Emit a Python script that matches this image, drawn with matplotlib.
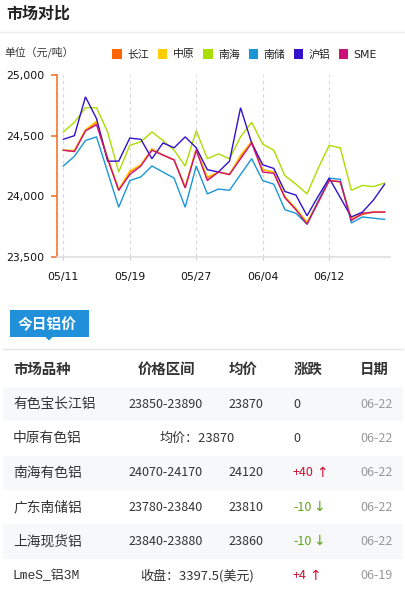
import matplotlib
matplotlib.use('Agg')
import matplotlib.pyplot as plt
from matplotlib.patches import Rectangle, Polygon
from matplotlib.ticker import FuncFormatter, FixedLocator

plt.rcParams['font.family'] = ['Noto Sans CJK SC', 'DejaVu Sans']

# trading days shown on the chart
dates = ['05/11', '05/12', '05/13', '05/14', '05/15', '05/18', '05/19', '05/20',
         '05/21', '05/22', '05/25', '05/26', '05/27', '05/28', '05/29', '06/01',
         '06/02', '06/03', '06/04', '06/05', '06/08', '06/09', '06/10', '06/11',
         '06/12', '06/15', '06/16', '06/17', '06/18', '06/19']

changjiang = [24380, 24370, 24540, 24610, 24310, 24050, 24200, 24260, 24390, 24340,
              24300, 24070, 24390, 24150, 24200, 24180, 24330, 24450, 24220, 24200,
              23990, 23890, 23780, 23950, 24130, 24120, 23810, 23850, 23870, 23870]
zhongyuan = [24380, 24380, 24550, 24620, 24320, 24060, 24210, 24260, 24390, 24340,
             24300, 24080, 24390, 24160, 24200, 24180, 24340, 24450, 24220, 24200,
             24000, 23900, 23790, 23960, 24130, 24120, 23820, 23860, 23870, 23870]
nanhai = [24530, 24610, 24730, 24730, 24530, 24200, 24420, 24450, 24530, 24460,
          24380, 24250, 24540, 24310, 24350, 24310, 24490, 24610, 24430, 24380,
          24170, 24100, 24020, 24230, 24420, 24400, 24050, 24090, 24080, 24110]
nanchu = [24250, 24330, 24460, 24490, 24200, 23910, 24130, 24160, 24250, 24200,
          24150, 23910, 24250, 24020, 24060, 24050, 24180, 24310, 24130, 24100,
          23890, 23860, 23770, 23960, 24150, 24140, 23780, 23830, 23820, 23810]
hulv = [24470, 24500, 24820, 24640, 24290, 24290, 24480, 24470, 24310, 24440,
        24400, 24490, 24400, 24220, 24200, 24290, 24730, 24440, 24260, 24230,
        24040, 24010, 23840, 24000, 24150, 23990, 23830, 23870, 23970, 24100]
sme = [24380, 24370, 24540, 24590, 24310, 24050, 24180, 24250, 24380, 24340,
       24300, 24070, 24380, 24130, 24200, 24180, 24310, 24440, 24200, 24190,
       23990, 23890, 23770, 23950, 24130, 24120, 23800, 23860, 23870, 23870]

series_names = ['长江', '中原', '南海', '南储', '沪铝', 'SME']
series_vals = [changjiang, zhongyuan, nanhai, nanchu, hulv, sme]
series_colors = ['#ff6600', '#ffcc00', '#aadd00', '#1a96d8', '#3311cc', '#cc1177']

y_ticks = [23500, 24000, 24500, 25000]
x_tick_every = 6

# today's table
tbl_header = ['市场品种', '价格区间', '均价', '涨跌', '日期']
markets = ['有色宝长江铝', '中原有色铝', '南海有色铝', '广东南储铝', '上海现货铝', 'LmeS_铝3M']
ranges = ['23850-23890', '均价：23870', '24070-24170', '23780-23840', '23840-23880',
          '收盘：3397.5(美元)']
avgs = ['23870', '', '24120', '23810', '23860', '']
changes = [0, 0, 40, -10, -10, 4]
tbl_dates = ['06-22', '06-22', '06-22', '06-22', '06-22', '06-19']

W, H = 406, 594
fig = plt.figure(figsize=(W / 100, H / 100), dpi=100)

# pixel-space background axes for all the page furniture
bg = fig.add_axes([0, 0, 1, 1], zorder=0)
bg.set_xlim(0, W)
bg.set_ylim(H, 0)
bg.axis('off')

bg.text(6, 13.5, '市场对比', fontsize=11.5, fontweight='bold', color='#222222', va='center')
bg.plot([0, W], [31.5, 31.5], color='#eeeeee', lw=1)
bg.text(4, 52.5, '单位（元/吨）', fontsize=7.8, color='#333333', va='center')

leg_x = [112, 157.7, 203.3, 248.7, 293.7, 338.7]
for lx, name, c in zip(leg_x, series_names, series_colors):
    bg.add_patch(Rectangle((lx, 49.3), 9.7, 9.7, color=c, lw=0))
    bg.text(lx + 15, 54.5, name, fontsize=7.8, color='#222222', va='center',
            family=['DejaVu Sans', 'Noto Sans CJK SC'] if name == 'SME' else None)

# line chart
ax = fig.add_axes([57 / W, 1 - 257 / H, 333 / W, 182 / H], zorder=1)
ax.patch.set_alpha(0)
x = list(range(len(dates)))
for vals, c in zip(series_vals, series_colors):
    ax.plot(x, vals, color=c, lw=1.0, solid_joinstyle='miter')
ax.set_xlim(-0.57, len(dates) - 0.51)
ax.set_ylim(23500, 25000)
ax.set_yticks(y_ticks)
ax.yaxis.set_major_formatter(FuncFormatter(lambda v, p: f'{v:,.0f}'))
tick_idx = list(range(0, len(dates), x_tick_every))
ax.xaxis.set_major_locator(FixedLocator(tick_idx))
ax.set_xticklabels([dates[i] for i in tick_idx])
for s in ['top', 'right']:
    ax.spines[s].set_visible(False)
ax.spines['left'].set_color('#f26b1d')
ax.spines['left'].set_linewidth(1.1)
ax.spines['bottom'].set_color('#dddddd')
ax.spines['bottom'].set_linewidth(1.1)
ax.tick_params(axis='y', colors='#f26b1d', length=4, width=1.1, pad=5.2,
               labelsize=7.8, labelcolor='#111111')
ax.tick_params(axis='x', colors='#cccccc', length=2.5, width=0.8, pad=8.5,
               labelsize=7.8, labelcolor='#111111')
for lab in ax.get_xticklabels() + ax.get_yticklabels():
    lab.set_family('DejaVu Sans')
ax.grid(axis='x', color='#d6d6d6', lw=0.8, linestyle=(0, (3, 3)))
ax.set_axisbelow(True)

# "今日铝价" tab
bg.add_patch(Rectangle((10, 310), 79, 26.7, color='#2190da', lw=0))
bg.add_patch(Polygon([[45, 336.5], [53, 336.5], [49, 340.5]], closed=True,
                     color='#2190da', lw=0))
bg.text(18, 324, '今日铝价', fontsize=10.6, fontweight='bold', color='white', va='center')
bg.plot([3, 403], [349, 349], color='#e6e6e6', lw=1)

hdr_x = [13, 166, 243.5, 308, 374.5]
hdr_ha = ['left', 'center', 'center', 'center', 'center']
for hx, ha, t in zip(hdr_x, hdr_ha, tbl_header):
    bg.text(hx, 369.5, t, fontsize=10.4, fontweight='bold', color='#333333',
            va='center', ha=ha)

row_top = 387
row_h = 34.3
for i in range(len(markets)):
    yc = row_top + row_h * (i + 0.5)
    if i % 2 == 0:
        bg.add_patch(Rectangle((3, row_top + row_h * i), 400, row_h,
                               color='#f7f8fa', lw=0))
    # latin-led names (LmeS) are shown in a monospace face
    mono = markets[i][0].isascii()
    bg.text(13, yc, markets[i], fontsize=9.4 if mono else 9.9,
            color='#333333', va='center',
            family=['Liberation Mono', 'Noto Sans CJK SC'] if mono else None)
    if avgs[i]:
        bg.text(165.5, yc, ranges[i], fontsize=9, color='#333333',
                va='center', ha='center')
        bg.text(246, yc, avgs[i], fontsize=9, color='#333333', va='center', ha='center')
    else:
        bg.text(197.5, yc, ranges[i], fontsize=9.4, color='#333333',
                va='center', ha='center')
    ch = changes[i]
    if ch > 0:
        col, arrow, s = '#cc1133', '↑', f'+{ch}'
    elif ch < 0:
        col, arrow, s = '#5ea514', '↓', f'-{abs(ch)}'
    else:
        col, arrow, s = '#333333', '', '0'
    t = bg.text(293, yc, s, fontsize=9, color=col, va='center')
    if arrow:
        bg.annotate(arrow, xy=(1, 0.5), xycoords=t, xytext=(1.5, 0),
                    textcoords='offset points', va='center', ha='left',
                    fontsize=10, color=col, family=['DejaVu Sans'])
    bg.text(377, yc, tbl_dates[i], fontsize=9, color='#999999', va='center', ha='center')

fig.savefig('out.png', dpi=100)
